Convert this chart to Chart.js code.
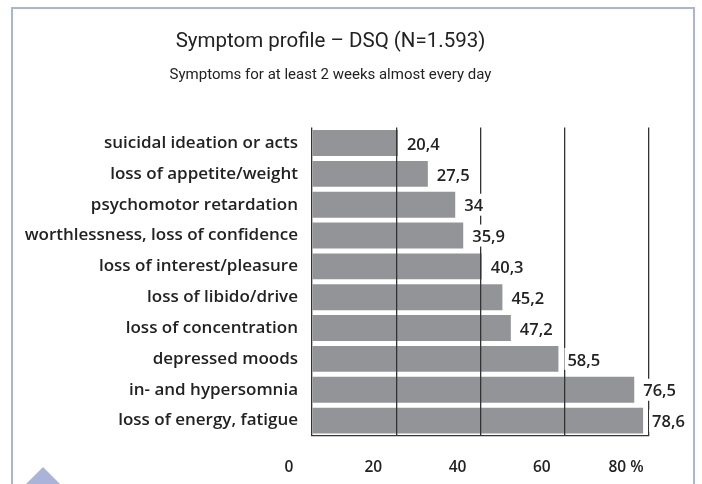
<!DOCTYPE html>
<html>
<head>
<meta charset="utf-8">
<script src="https://cdn.jsdelivr.net/npm/chart.js@4/dist/chart.umd.min.js"></script>
<style>
  html, body { margin: 0; padding: 0; background: #fff; }
  #wrap { position: relative; width: 702px; height: 484px; overflow: hidden; }
  #frame {
    position: absolute; left: 11px; top: 7px; width: 680px; height: 500px;
    border: 2px solid #aab4d9; border-bottom: none;
  }
  #tri {
    position: absolute; left: 26px; top: 467px; width: 0; height: 0;
    border-left: 17px solid transparent; border-right: 17px solid transparent;
    border-bottom: 17px solid #aab4d9;
  }
  canvas { position: absolute; left: 0; top: 0; }
</style>
</head>
<body>
<div id="wrap">
  <div id="frame"></div>
  <div id="tri"></div>
  <canvas id="bar-chart" width="702" height="484"></canvas>
</div>
<script>
var symptoms = ["suicidal ideation or acts", "loss of appetite/weight", "psychomotor retardation",
  "worthlessness, loss of confidence", "loss of interest/pleasure", "loss of libido/drive",
  "loss of concentration", "depressed moods", "in- and hypersomnia", "loss of energy, fatigue"];
var percents = [20.4, 27.5, 34, 35.9, 40.3, 45.2, 47.2, 58.5, 76.5, 78.6];
var xTicks = [0, 20, 40, 60, 80];

var labelFont = '"Open Sans", sans-serif';
var titleFont = 'Roboto, "Open Sans", sans-serif';

// value next to each bar (decimal comma), on a white patch like the original
var valueLabels = {
  id: 'valueLabels',
  afterDraw: function(chart) {
    var ctx = chart.ctx;
    var meta = chart.getDatasetMeta(0);
    ctx.save();
    ctx.font = '600 16.5px ' + labelFont;
    ctx.textAlign = 'left';
    ctx.textBaseline = 'middle';
    meta.data.forEach(function(bar, i) {
      var txt = String(percents[i]).replace('.', ',');
      var w = ctx.measureText(txt).width;
      var x = bar.x + 9;
      ctx.fillStyle = '#fff';
      ctx.fillRect(x - 3, bar.y - 11, w + 6, 22);
      ctx.fillStyle = '#222';
      ctx.fillText(txt, x, bar.y + 2);
    });
    ctx.restore();
  }
};

new Chart(document.getElementById("bar-chart"), {
  type: 'bar',
  data: {
    labels: symptoms,
    datasets: [{
      data: percents,
      backgroundColor: '#939498',
      barPercentage: 0.84,
      categoryPercentage: 1
    }]
  },
  plugins: [valueLabels],
  options: {
    indexAxis: 'y',
    responsive: false,
    animation: false,
    layout: { padding: { left: 12, right: 53, top: 0, bottom: 0 } },
    plugins: {
      legend: { display: false },
      tooltip: { enabled: false },
      title: {
        display: true,
        text: 'Symptom profile – DSQ (N=1.593)',
        color: '#222',
        font: { family: titleFont, size: 20.5, weight: 'normal' },
        padding: { top: 30, bottom: 6 }
      },
      subtitle: {
        display: true,
        text: 'Symptoms for at least 2 weeks almost every day',
        color: '#222',
        font: { family: titleFont, size: 15, weight: 'normal' },
        padding: { top: 6, bottom: 43 }
      }
    },
    scales: {
      x: {
        min: 0,
        max: 80,
        afterBuildTicks: function(scale) {
          scale.ticks = xTicks.map(function(v) { return { value: v }; });
        },
        afterFit: function(scale) { scale.height = 48; },
        grid: { color: '#333', lineWidth: 1.3, drawTicks: false, z: 1 },
        border: { display: true, color: '#333', width: 1.3, z: 1 },
        ticks: {
          padding: 22,
          labelOffset: -23,
          color: '#222',
          font: { family: labelFont, size: 15.5, weight: '600' },
          callback: function(v) { return v === 80 ? '80 %' : v; }
        }
      },
      y: {
        afterFit: function(scale) { scale.width = 300; },
        grid: { display: false, drawTicks: false },
        border: { display: false },
        ticks: {
          padding: 14,
          color: '#222',
          font: { family: labelFont, size: 17, weight: '600' }
        }
      }
    }
  }
});
</script>
</body>
</html>
